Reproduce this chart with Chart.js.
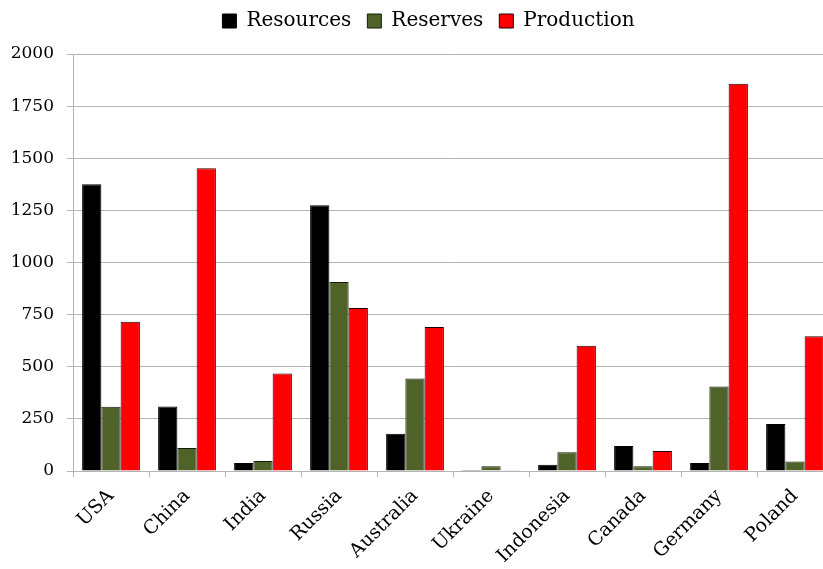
<!DOCTYPE html>
<html>
<head>
<meta charset="utf-8">
<script src="https://cdn.jsdelivr.net/npm/chart.js@4.4.1/dist/chart.umd.min.js"></script>
<style>
  html, body { margin: 0; padding: 0; background: #fff; overflow: hidden; }
  #wrap { position: absolute; left: 0; top: 0; width: 840px; height: 569px; }
</style>
</head>
<body>
<div id="wrap"><canvas id="coal-chart"></canvas></div>
<script>
"use strict";

const countries = ["USA", "China", "India", "Russia", "Australia", "Ukraine", "Indonesia", "Canada", "Germany", "Poland"];
const resources = [1375, 309, 38, 1275, 179, 5, 30, 120, 38, 226];
const reserves = [308, 110, 48, 907, 444, 23, 90, 23, 405, 45];
const production = [716, 1452, 468, 782, 691, 3, 601, 96, 1857, 646];
const yTicks = [0, 250, 500, 750, 1000, 1250, 1500, 1750, 2000];

const serif = "'DejaVu Serif', serif";
const gridGrey = "#b4b4b4";

// push the plot down a little below the legend, and nudge the legend right
const legendGap = {
  id: "legendGap",
  beforeInit(chart) {
    const fit = chart.legend.fit;
    chart.legend.fit = function () {
      fit.bind(chart.legend)();
      this.height += 13;
    };
  },
  afterLayout(chart) {
    chart.legend.left += 12;
    chart.legend.right += 12;
  },
};

new Chart(document.getElementById("coal-chart"), {
  type: "bar",
  data: {
    labels: countries,
    datasets: [
      { label: "Resources", data: resources, backgroundColor: "#000000", borderColor: "#000000", borderWidth: 1 },
      { label: "Reserves", data: reserves, backgroundColor: "#4f6228", borderColor: "#141c0a", borderWidth: 1 },
      { label: "Production", data: production, backgroundColor: "#ff0000", borderColor: "#200000", borderWidth: 1 },
    ],
  },
  options: {
    responsive: true,
    maintainAspectRatio: false,
    animation: false,
    layout: { padding: { left: 0, right: 7, top: -5, bottom: 0 } },
    datasets: { bar: { categoryPercentage: 0.76, barPercentage: 1.0 } },
    plugins: {
      legend: {
        position: "top",
        labels: {
          font: { family: serif, size: 20 },
          color: "#000",
          boxWidth: 14,
          boxHeight: 14,
          padding: 16,
        },
      },
      tooltip: { enabled: false },
    },
    scales: {
      x: {
        grid: { drawOnChartArea: false, drawTicks: true, tickLength: 6, color: gridGrey },
        border: { color: gridGrey },
        ticks: {
          font: { family: serif, size: 19 },
          color: "#000",
          minRotation: 45,
          maxRotation: 45,
          padding: 8,
        },
        afterFit(scale) { scale.height = 98; },
      },
      y: {
        min: 0,
        max: 2000,
        afterBuildTicks(scale) { scale.ticks = yTicks.map((v) => ({ value: v })); },
        grid: { color: gridGrey, tickLength: 6 },
        border: { color: gridGrey },
        ticks: {
          font: { family: serif, size: 17 },
          color: "#000",
          padding: 13,
          callback: (value) => String(value),
        },
        afterFit(scale) { scale.width = 73; },
      },
    },
  },
  plugins: [legendGap],
});
</script>
</body>
</html>
